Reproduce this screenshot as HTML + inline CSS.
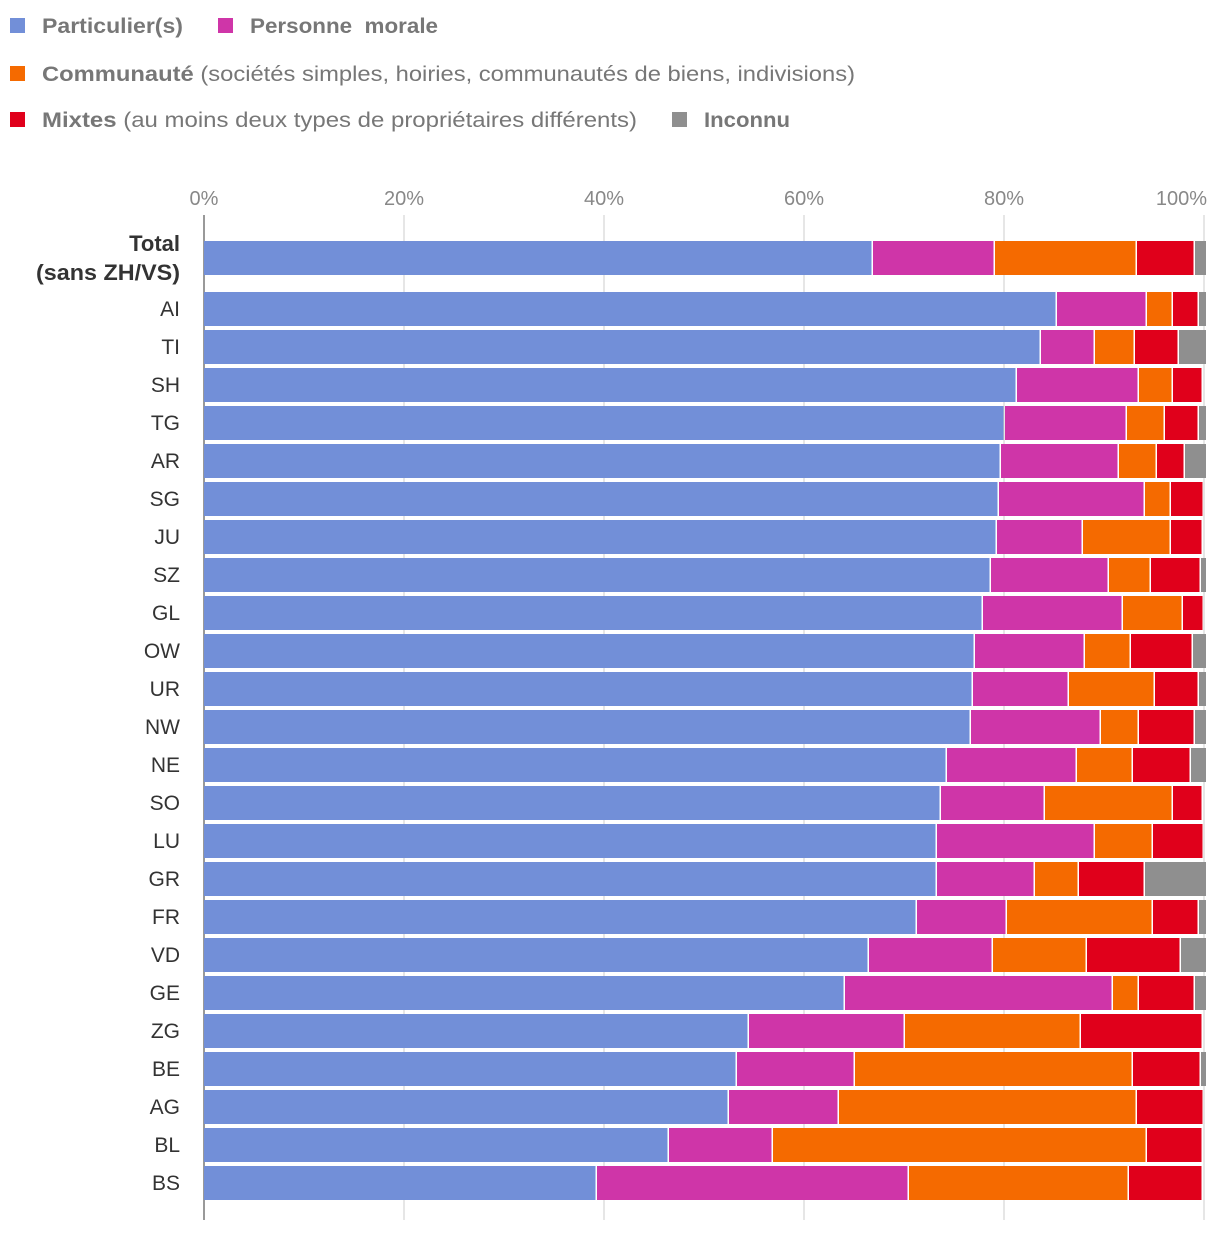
<!DOCTYPE html>
<html><head><meta charset="utf-8"><style>
body{margin:0;background:#fff;font-family:"Liberation Sans",sans-serif;}
svg text{font-family:"Liberation Sans",sans-serif;}
</style></head><body>
<svg id="c" width="1220" height="1230" xmlns="http://www.w3.org/2000/svg"></svg>
<script>
const categories=["Total|(sans ZH/VS)","AI","TI","SH","TG","AR","SG","JU","SZ","GL","OW","UR","NW","NE","SO","LU","GR","FR","VD","GE","ZG","BE","AG","BL","BS"];
const particuliers=[66.9,85.3,83.7,81.3,80.1,79.7,79.5,79.3,78.7,77.9,77.1,76.9,76.7,74.3,73.7,73.3,73.3,71.3,66.5,64.1,54.5,53.3,52.5,46.5,39.3];
const morale=[12.2,9.0,5.4,12.2,12.2,11.8,14.6,8.6,11.8,14.0,11.0,9.6,13.0,13.0,10.4,15.8,9.8,9.0,12.4,26.8,15.6,11.8,11.0,10.4,31.2];
const communaute=[14.2,2.6,4.0,3.4,3.8,3.8,2.6,8.8,4.2,6.0,4.6,8.6,3.8,5.6,12.8,5.8,4.4,14.6,9.4,2.6,17.6,27.8,29.8,37.4,22.0];
const mixtes=[5.8,2.6,4.4,3.0,3.4,2.8,3.3,3.2,5.0,2.1,6.2,4.4,5.6,5.8,3.0,5.1,6.6,4.6,9.4,5.6,12.2,6.8,6.7,5.6,7.4];
const inconnu=[1.1,0.7,2.7,0,0.7,2.1,0,0,0.5,0,1.3,0.7,1.1,1.5,0,0,6.1,0.7,2.5,1.1,0,0.5,0,0,0];
const ticks=[0,20,40,60,80,100];
const seriesNames=["particuliers","personne-morale","communaute","mixtes","inconnu"];
const colors=["#728fd8","#cf35a8","#f56a00","#e0001b","#8f8f8f"];
const NS="http://www.w3.org/2000/svg";
const svg=document.getElementById('c');
const x=v=>204+v*10;
const rowY=i=>i===0?241:292+(i-1)*38;
const rowH=i=>34;
function el(t,a,p){const e=document.createElementNS(NS,t);for(const k in a)e.setAttribute(k,a[k]);(p||svg).appendChild(e);return e;}
// legend
const leg=[[10,26,0,"Particulier(s)","",141],[218,26,1,"Personne\u00a0 morale","",188],[10,74,2,"Communauté"," (sociétés simples, hoiries, communautés de biens, indivisions)",813],[10,120,3,"Mixtes"," (au moins deux types de propriétaires différents)",595],[672,120,4,"Inconnu","",86]];
leg.forEach(l=>{
 const g=el('g',{});
 
 
 el('rect',{x:l[0],y:l[1]-8,width:15,height:15,fill:colors[l[2]]},g);
 const t=el('text',{x:l[0]+32,y:l[1]+7,'font-size':21,fill:'#777',textLength:l[5],lengthAdjust:'spacingAndGlyphs'},g);
 const b=el('tspan',{'font-weight':'bold'},t);b.textContent=l[3];
 if(l[4]){const s=el('tspan',{},t);s.textContent=l[4];}
});
// grid + ticks
ticks.forEach(t=>{
 const ln=el('line',{x1:x(t),x2:x(t),y1:215,y2:1220,stroke:t===0?'#333':'#ccc','stroke-width':1});
 
 
 const tx=el('text',{x:t===100?1207:x(t),y:205,'text-anchor':t===100?'end':'middle','font-size':20,fill:'#888'});
 
 
 tx.textContent=t+'%';
});
const series=[particuliers,morale,communaute,mixtes,inconnu];
categories.forEach((c,i)=>{
 const y=rowY(i),h=rowH(i);
 let cum=0;
 series.forEach((s,k)=>{
  const v=s[i];
  if(v>0){
   const r=el('rect',{x:x(cum),y:y,width:Math.max(0,x(cum+v)-x(cum)-(k<4?1.5:0)),height:h,fill:colors[k]});
   
   
  }
  cum+=v;
 });
 const parts=c.split('|');
 if(parts.length>1){
  const t1=el('text',{x:180,y:251,'text-anchor':'end','font-size':22,'font-weight':'bold',fill:'#333'});
  
  
  t1.textContent=parts[0];
  const t2=el('text',{x:180,y:280,'text-anchor':'end','font-size':22,'font-weight':'bold',fill:'#333',textLength:144,lengthAdjust:'spacingAndGlyphs'});
  
  
  t2.textContent=parts[1];
 } else {
  const t=el('text',{x:180,y:y+h/2+7,'text-anchor':'end','font-size':21,fill:'#333'});
  
  
  t.textContent=c;
 }
});
</script>
</body></html>
